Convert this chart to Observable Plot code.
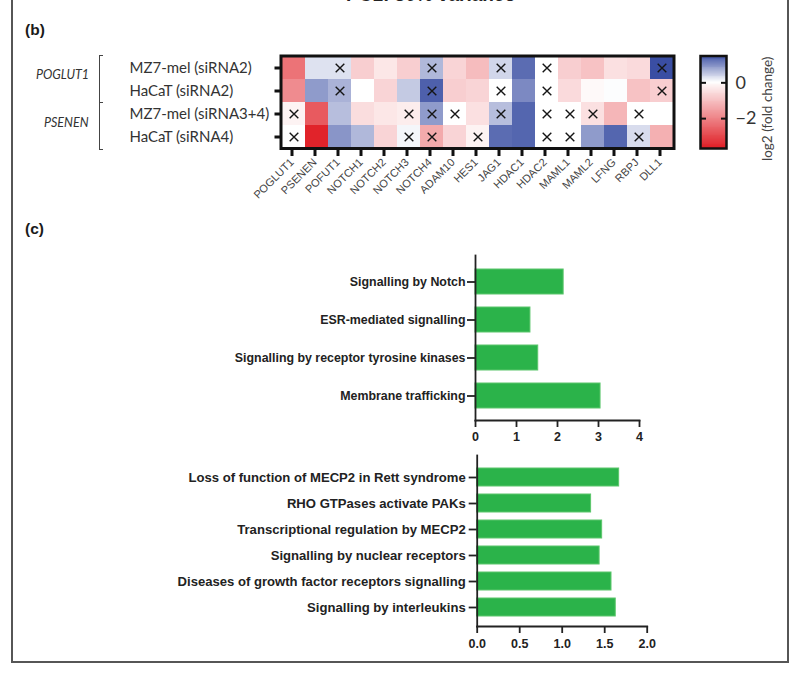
<!DOCTYPE html>
<html>
<head>
<meta charset="utf-8">
<script src="https://cdn.jsdelivr.net/npm/d3@7"></script>
<script src="https://cdn.jsdelivr.net/npm/@observablehq/plot@0.6"></script>
<style>
html,body{margin:0;padding:0;background:#fff;}
#page{position:relative;width:795px;height:685px;overflow:hidden;background:#fff;}
#page svg{position:absolute;left:0;background:transparent;}
.t{position:absolute;white-space:nowrap;}
.panel{position:absolute;left:11px;top:-6px;width:774px;height:665px;border:2.5px solid #565656;box-sizing:content-box;}
.head{font:bold 15.5px "Liberation Sans",Arial,sans-serif;color:#1a1a1a;}
.group{font:italic 12.5px Lato,sans-serif;color:#333;}
.bracket{position:absolute;left:99px;width:3px;border:1.5px solid #444;border-right:none;}
</style>
</head>
<body>
<div id="page">
  <div class="panel"></div>
  <div class="t" style="left:346px;top:-16px;font:bold 19px 'Liberation Sans',Arial,sans-serif;color:#222;">PC1: 30% variance</div>
  <div class="t head" style="left:25px;top:21px;">(b)</div>
  <div class="t head" style="left:25px;top:220px;">(c)</div>
  <div class="t group" style="left:36px;top:67px;">POGLUT1</div>
  <div class="t group" style="left:44px;top:115px;">PSENEN</div>
  <div class="bracket" style="top:55px;height:46px;"></div>
  <div class="bracket" style="top:102px;height:46px;"></div>
</div>
<script>
const genes = ["POGLUT1","PSENEN","POFUT1","NOTCH1","NOTCH2","NOTCH3","NOTCH4","ADAM10","HES1","JAG1","HDAC1","HDAC2","MAML1","MAML2","LFNG","RBPJ","DLL1"];
const conditions = ["MZ7-mel (siRNA2)","HaCaT (siRNA2)","MZ7-mel (siRNA3+4)","HaCaT (siRNA4)"];
const mz7Sirna2   = [-2.3, 0.25, 0.25, -0.8, -0.4, -0.8, 0.6, -0.7, -1.1, 0.35, 1.25, 0, -0.8, -1.0, -0.5, -0.6, 1.5];
const hacatSirna2 = [-1.9, 0.85, 0.65, 0, -0.7, 0.45, 1.35, -0.8, -0.7, 0, 1.0, 0, -0.6, -0.1, 0.02, -1.0, -0.8];
const mz7Sirna34  = [-0.2, -2.7, 0.55, -0.55, -0.4, -0.3, 0.85, 0, -0.5, 0.55, 1.3, 0, 0, -0.5, -1.2, 0, 0];
const hacatSirna4 = [0, -3.6, 0.9, 0.6, -0.7, 0.08, -1.4, -0.7, -0.2, 1.25, 1.3, 0, 0, 0.85, 1.3, 0.3, -1.3];
const mz7Sirna2NS   = ["POFUT1","NOTCH4","JAG1","HDAC2","DLL1"];
const hacatSirna2NS = ["POFUT1","NOTCH4","JAG1","HDAC2","DLL1"];
const mz7Sirna34NS  = ["POGLUT1","NOTCH3","NOTCH4","ADAM10","JAG1","HDAC2","MAML1","MAML2","RBPJ"];
const hacatSirna4NS = ["POGLUT1","NOTCH3","NOTCH4","HES1","HDAC2","MAML1","RBPJ"];
const pathwaysTop = ["Signalling by Notch","ESR-mediated signalling","Signalling by receptor tyrosine kinases","Membrane trafficking"];
const valuesTop = [2.15, 1.34, 1.53, 3.05];
const pathwaysBottom = ["Loss of function of MECP2 in Rett syndrome","RHO GTPases activate PAKs","Transcriptional regulation by MECP2","Signalling by nuclear receptors","Diseases of growth factor receptors signalling","Signalling by interleukins"];
const valuesBottom = [1.67, 1.34, 1.47, 1.44, 1.58, 1.63];
const colorTicks = [0, -2];

const cells = [];
[[mz7Sirna2, mz7Sirna2NS],[hacatSirna2, hacatSirna2NS],[mz7Sirna34, mz7Sirna34NS],[hacatSirna4, hacatSirna4NS]].forEach(([vals, ns], r) => {
  vals.forEach((v, i) => cells.push({gene: genes[i], condition: conditions[r], value: v, ns: ns.includes(genes[i])}));
});
const colorScale = {type:"linear", domain:[-3.67,0,1.5], range:["#e01f26","#ffffff","#3a4ea3"], clamp:true};
const page = document.getElementById("page");
function place(svg, top){ svg.style.top = top + "px"; page.appendChild(svg); }

// (b) heatmap
place(Plot.plot({
  width:795, height:230, marginLeft:280.5, marginRight:121.5, marginTop:55.5, marginBottom:82,
  x:{domain:genes, padding:0, label:null},
  y:{domain:conditions, padding:0, label:null},
  color:colorScale,
  marks:[
    Plot.cell(cells,{x:"gene",y:"condition",fill:"value"}),
    Plot.dot(cells.filter(d=>d.ns),{x:"gene",y:"condition",symbol:"times",r:4,stroke:"#151515",strokeWidth:1.4}),
    Plot.frame({stroke:"#111",strokeWidth:3}),
    Plot.axisX({anchor:"bottom",tickSize:8,strokeWidth:3,stroke:"#111",tickRotate:-45,tickPadding:4,dx:-2,fontSize:11,fontFamily:"Liberation Sans",fill:"#444",label:null}),
    Plot.axisY({anchor:"left",tickSize:6,strokeWidth:3,stroke:"#111",textAnchor:"start",tickPadding:145.5,fontSize:15,fontFamily:"Lato",fill:"#333",label:null})
  ]
}),0);

// colour bar
const ramp = d3.range(-3.67,1.5,0.05);
place(Plot.plot({
  width:795, height:230, marginLeft:700, marginRight:69, marginTop:55.5, marginBottom:82,
  x:{domain:[0,1],axis:null},
  y:{domain:[-3.67,1.5],label:null},
  color:colorScale,
  marks:[
    Plot.rect(ramp,{x1:0,x2:1,y1:d=>d,y2:d=>Math.min(1.5,d+0.1),fill:d=>d,shapeRendering:"crispEdges"}),
    Plot.frame({stroke:"#111",strokeWidth:2.5}),
    Plot.axisY(colorTicks,{anchor:"left",tickSize:-6,strokeWidth:2,stroke:"#111",text:null,label:null}),
    Plot.axisY(colorTicks,{anchor:"right",tickSize:-6,tickPadding:15,strokeWidth:2,stroke:"#111",tickFormat:d=>d<0?"\u2212"+(-d):String(d),fontSize:18,fontFamily:"Lato",fill:"#333",label:null}),
    Plot.text(["log2 (fold change)"],{frameAnchor:"right",textAnchor:"middle",y:()=>-1.45,dx:41,rotate:-90,fontSize:13.5,fontFamily:"Lato",fill:"#444"})
  ]
}),0);

// (c) bar charts
function bars(names, values, opts){
  const data = names.map((n,i)=>({name:n,value:values[i]}));
  return Plot.plot({
    width:795, height:opts.height, marginLeft:opts.x0, marginRight:795-opts.x1, marginTop:opts.top, marginBottom:opts.bottom,
    x:{domain:opts.domain, ticks:opts.ticks, label:null},
    y:{domain:names, range:opts.range, padding:opts.padding, label:null},
    marks:[
      Plot.barX(data,{x:"value",y:"name",fill:"#2bb34a",stroke:"#5cc66c",strokeWidth:1}),
      Plot.frame({anchor:"left",stroke:"#222",strokeWidth:1.8}),
      Plot.frame({anchor:"bottom",stroke:"#222",strokeWidth:1.8}),
      Plot.axisX(opts.ticks,{anchor:"bottom",tickSize:7,strokeWidth:1.8,stroke:"#222",tickPadding:opts.xPad,fontSize:12.5,fontWeight:"bold",fontFamily:"Liberation Sans",fill:"#222",tickFormat:opts.format,label:null}),
      Plot.axisY({anchor:"left",tickSize:8,strokeWidth:1.8,stroke:"#222",tickPadding:opts.yPad,fontSize:opts.yFont,fontWeight:"bold",fontFamily:"Liberation Sans",fill:"#222",label:null})
    ]
  });
}
place(bars(pathwaysTop, valuesTop, {height:450,x0:475,x1:639,top:255,bottom:30,domain:[0,4],ticks:[0,1,2,3,4],format:d=>String(d),range:[256.3,421.3],padding:0.34,yFont:12.4,xPad:5,yPad:2}),0);
place(bars(pathwaysBottom, valuesBottom, {height:656,x0:476.7,x1:646.7,top:455,bottom:30,domain:[0,2],ticks:[0,0.5,1,1.5,2],format:d=>d.toFixed(1),range:[456.2,626.5],padding:0.32,yFont:13.1,xPad:6,yPad:3.5}),0);
</script>
</body>
</html>
